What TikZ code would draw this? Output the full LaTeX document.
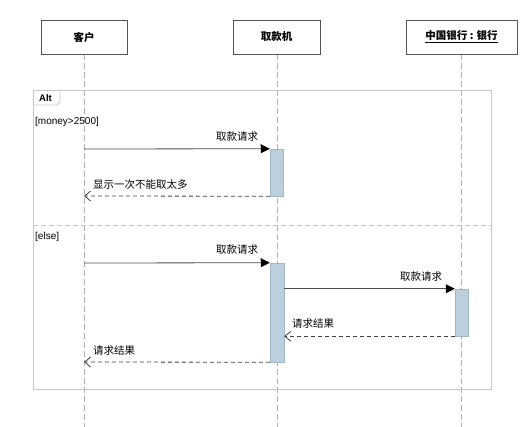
\documentclass[tikz,border=0pt]{standalone}
\usepackage{fontspec}
\setmainfont{Liberation Sans}
\newfontfamily\cjk{Noto Sans CJK SC}
\usetikzlibrary{arrows.meta}
\definecolor{boxline}{HTML}{555555}
\definecolor{frameline}{HTML}{C8C8C8}
\definecolor{lifeline}{HTML}{B0B0B0}
\definecolor{actfill}{HTML}{BCCFDD}
\definecolor{actline}{HTML}{9FB6C8}
\tikzset{
  objbox/.style={draw=boxline, line width=0.9pt, fill=white, minimum width=86pt, minimum height=34pt, inner sep=0pt, font=\cjk\fontsize{10.5}{12}\selectfont\bfseries},
  lifel/.style={draw=lifeline, dash pattern=on 6pt off 3pt, line width=0.7pt},
  actbox/.style={draw=actline, fill=actfill, line width=0.5pt},
  callmsg/.style={draw=black!70, line width=0.8pt, -{Triangle[length=9pt,width=9pt,fill=black,color=black]}},
  retmsg/.style={draw=black!75, line width=0.8pt, dash pattern=on 4pt off 3pt, -{Straight Barb[length=6pt,width=10pt]}},
  msglbl/.style={font=\cjk\fontsize{10.5}{12}\selectfont, inner sep=1pt},
  guard/.style={font=\fontsize{10}{12}\selectfont, inner sep=0pt, anchor=west}
}
\begin{document}
\begin{tikzpicture}[x=1pt,y=-1pt]
\useasboundingbox (0,0) rectangle (522,427);
% lifelines
\coordinate (l1t) at (84,54); \coordinate (l1b) at (84,427);
\coordinate (l2t) at (277,54); \coordinate (l2b) at (277,427);
\coordinate (l3t) at (461,54); \coordinate (l3b) at (461,427);
\draw[lifel] (l1t) -- (l1b);
\draw[lifel] (l2t) -- (l2b);
\draw[lifel] (l3t) -- (l3b);
% objects
\node[objbox] (c) at (84,37) {客户};
\node[objbox, minimum width=87pt] (atm) at (276.5,37) {取款机};
\node[objbox, minimum width=111pt] (bank) at (461.5,37) {\underline{中国银行 : 银行}};
% frame
\draw[frameline, line width=0.9pt] (33,90) rectangle (491,389);
\draw[frameline, line width=0.9pt] (33,105) -- (57,105) -- (60,101) -- (60,90);
\node[font=\fontsize{9.5}{11}\selectfont\bfseries, inner sep=0pt] (alt) at (45.5,98) {Alt};
\node[guard] (g1) at (35,122) {[money>2500]};
\draw[frameline, line width=0.9pt, dash pattern=on 5pt off 3pt] (33,225) -- (491,225);
\node[guard] (g2) at (35,237) {[else]};
% activations
\node[actbox, minimum width=13pt, minimum height=47pt, inner sep=0pt] (a1) at (276.5,172.5) {};
\node[actbox, minimum width=14pt, minimum height=99pt, inner sep=0pt] (a2) at (277,312.5) {};
\node[actbox, minimum width=13pt, minimum height=47pt, inner sep=0pt] (a3) at (461.5,312.5) {};
% messages
\coordinate (m1s) at (84,149);
\draw[callmsg] (m1s) -- (a1.north west);
\node[msglbl] (t1) at (237,137) {取款请求};
\coordinate (r1e) at (84,196);
\draw[retmsg] (a1.south west) -- (r1e);
\node[msglbl, anchor=west] (t2) at (92,185) {显示一次不能取太多};
\coordinate (m2s) at (84,263);
\draw[callmsg] (m2s) -- (a2.north west);
\node[msglbl] (t3) at (237,250) {取款请求};
\coordinate (m3s) at (a2.east |- a3.north);
\draw[callmsg] (m3s) -- (a3.north west);
\node[msglbl] (t4) at (421,277) {取款请求};
\coordinate (r2e) at (a2.east |- a3.south);
\draw[retmsg] (a3.south west) -- (r2e);
\node[msglbl, anchor=west] (t5) at (291,324) {请求结果};
\coordinate (r3e) at (84,362);
\draw[retmsg] (a2.south west) -- (r3e);
\node[msglbl, anchor=west] (t6) at (92,351) {请求结果};
\end{tikzpicture}
\end{document}
